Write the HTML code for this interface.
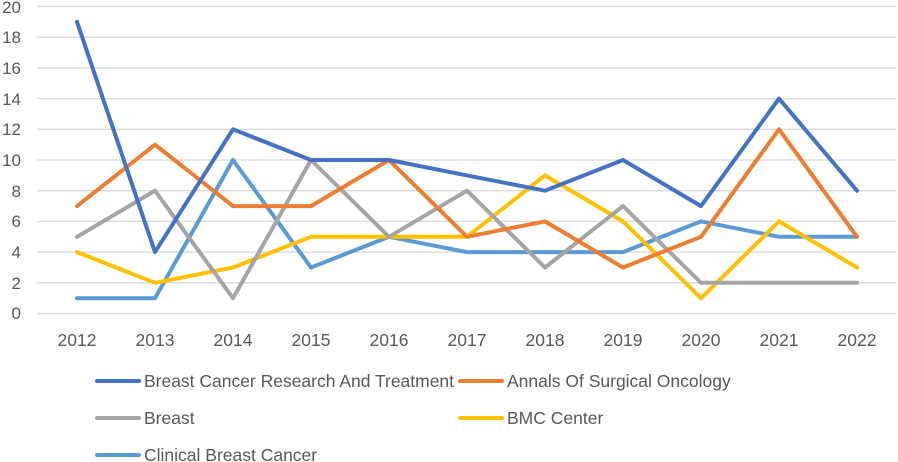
<!DOCTYPE html>
<html><head><meta charset="utf-8"><style>
body{margin:0;background:#fff;}
svg{display:block;font-family:"Liberation Sans",sans-serif;}
</style></head><body>
<svg width="898" height="462" viewBox="0 0 898 462">
<g stroke="#d9d9d9" stroke-width="1.3">
<line x1="37" x2="896" y1="6.5" y2="6.5"/><line x1="37" x2="896" y1="37.2" y2="37.2"/>
<line x1="37" x2="896" y1="67.9" y2="67.9"/><line x1="37" x2="896" y1="98.6" y2="98.6"/>
<line x1="37" x2="896" y1="129.3" y2="129.3"/><line x1="37" x2="896" y1="160" y2="160"/>
<line x1="37" x2="896" y1="190.7" y2="190.7"/><line x1="37" x2="896" y1="221.4" y2="221.4"/>
<line x1="37" x2="896" y1="252.1" y2="252.1"/><line x1="37" x2="896" y1="282.8" y2="282.8"/>
<line x1="37" x2="896" y1="313.5" y2="313.5"/>
</g>
<g fill="#595959" font-size="17" text-anchor="end">
<text x="21" y="13">20</text><text x="21" y="43">18</text><text x="21" y="74">16</text>
<text x="21" y="105">14</text><text x="21" y="135">12</text><text x="21" y="166">10</text>
<text x="21" y="197">8</text><text x="21" y="227">6</text><text x="21" y="258">4</text>
<text x="21" y="289">2</text><text x="21" y="319">0</text>
</g>
<g fill="#595959" font-size="17.5" text-anchor="middle">
<text x="77" y="346">2012</text><text x="155" y="346">2013</text><text x="233" y="346">2014</text>
<text x="311" y="346">2015</text><text x="389" y="346">2016</text><text x="467" y="346">2017</text>
<text x="545" y="346">2018</text><text x="623" y="346">2019</text><text x="701" y="346">2020</text>
<text x="779" y="346">2021</text><text x="857" y="346">2022</text>
</g>
<g fill="none" stroke-width="4" stroke-linejoin="round" stroke-linecap="round">
<polyline stroke="#5b9bd5" points="77,298.2 155,298.2 233,160 311,267.5 389,236.8 467,252.1 545,252.1 623,252.1 701,221.4 779,236.8 857,236.8"/>
<polyline stroke="#ffc000" points="77,252.1 155,282.8 233,267.5 311,236.8 389,236.8 467,236.8 545,175.4 623,221.4 701,298.2 779,221.4 857,267.5"/>
<polyline stroke="#a5a5a5" points="77,236.8 155,190.7 233,298.2 311,160 389,236.8 467,190.7 545,267.5 623,206.1 701,282.8 779,282.8 857,282.8"/>
<polyline stroke="#ed7d31" points="77,206.1 155,144.7 233,206.1 311,206.1 389,160 467,236.8 545,221.4 623,267.5 701,236.8 779,129.3 857,236.8"/>
<polyline stroke="#4472c4" points="77,21.9 155,252.1 233,129.3 311,160 389,160 467,175.4 545,190.7 623,160 701,206.1 779,98.6 857,190.7"/>
</g>
<g stroke-width="4" stroke-linecap="round">
<line x1="97" x2="139" y1="381" y2="381" stroke="#4472c4"/>
<line x1="460" x2="502" y1="381" y2="381" stroke="#ed7d31"/>
<line x1="97" x2="139" y1="418" y2="418" stroke="#a5a5a5"/>
<line x1="460" x2="502" y1="418" y2="418" stroke="#ffc000"/>
<line x1="97" x2="139" y1="455" y2="455" stroke="#5b9bd5"/>
</g>
<g fill="#595959" font-size="17.5">
<text x="144" y="387" textLength="310" lengthAdjust="spacingAndGlyphs">Breast Cancer Research And Treatment</text>
<text x="507" y="387">Annals Of Surgical Oncology</text>
<text x="144" y="424">Breast</text>
<text x="507" y="424">BMC Center</text>
<text x="144" y="461">Clinical Breast Cancer</text>
</g>
</svg>
</body></html>
